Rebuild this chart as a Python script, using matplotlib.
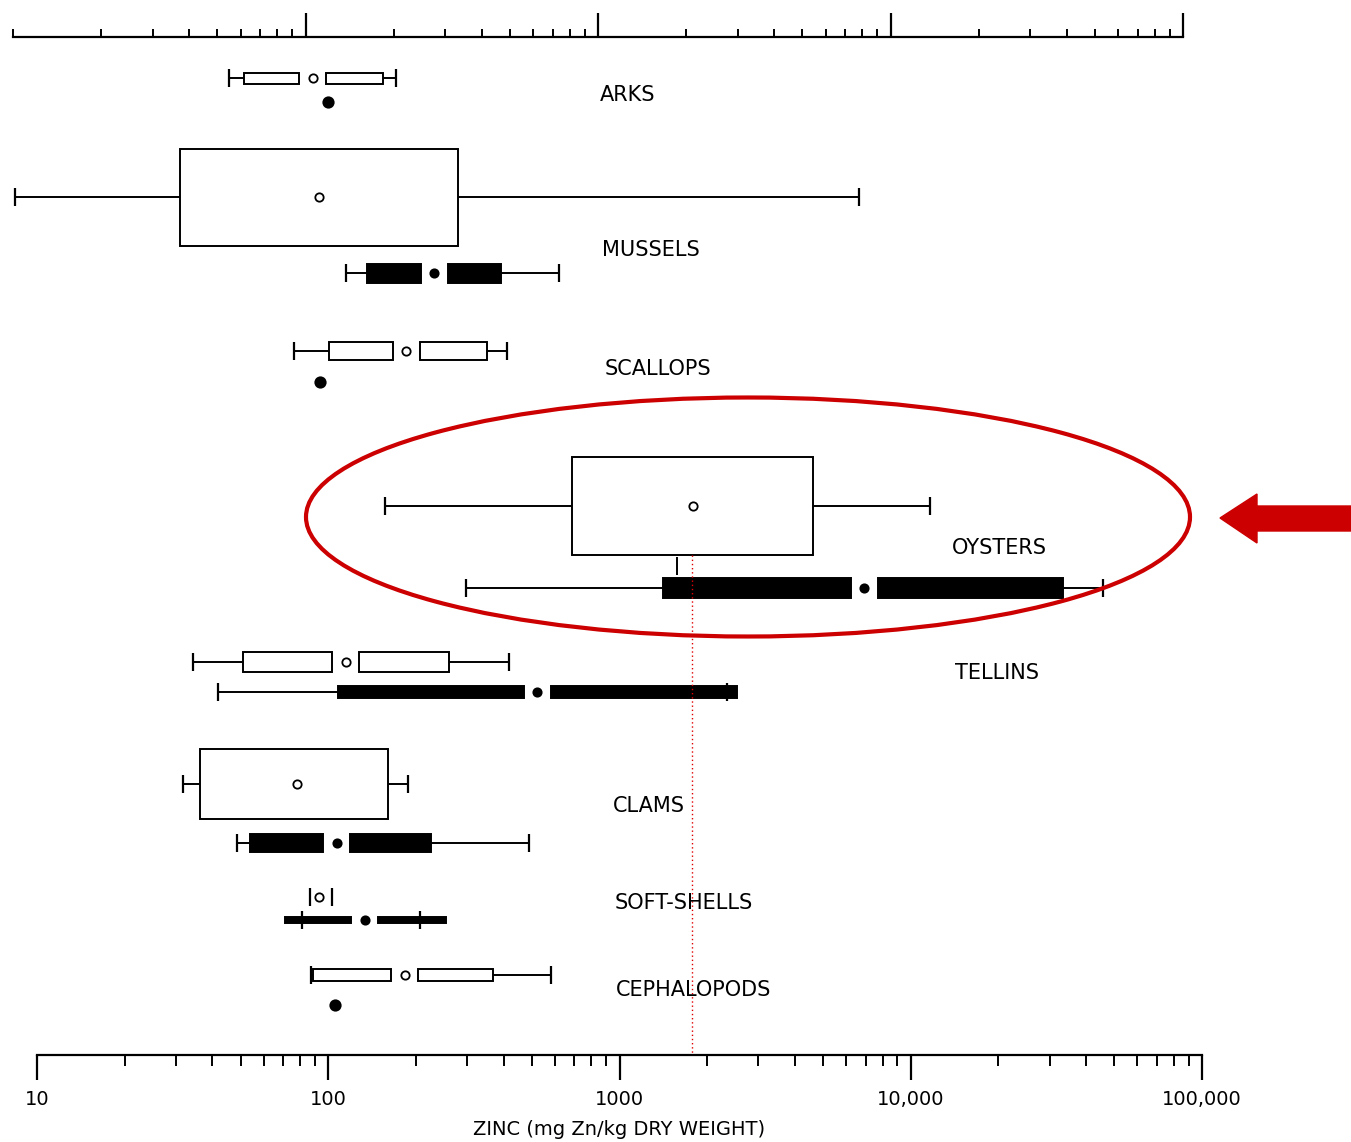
"""
Zinc in bivalves and cephalopods - notched-style box plots on a log scale.
"""

import numpy as np
import matplotlib.pyplot as plt
from matplotlib.patches import Ellipse, Polygon
from matplotlib.ticker import FixedLocator, NullFormatter

groups = ["ARKS", "MUSSELS", "SCALLOPS", "OYSTERS",
          "TELLINS", "CLAMS", "SOFT-SHELLS", "CEPHALOPODS"]

# first data set (open symbols), mg Zn/kg dry weight
open_whisk_lo = [45.6, 8.4, 76.3, 157, 34.3, 31.7, 86.6, 87.3]
open_box_lo = [51.4, 31.0, 100.6, 687, 51.0, 36.3, 86.6, 88.6]
open_median = [88.6, 92.9, 185, 1789, 115, 78.1, 92.9, 183]
open_box_hi = [154, 279, 351, 4617, 260, 160, 103, 368]
open_whisk_hi = [171, 6644, 411, 11650, 417, 188, 103, 582]

# second data set (filled symbols); nan = only the median was plotted
nan = np.nan
filled_whisk_lo = [nan, 115, nan, 297, 41.8, 48.6, 81.2, nan]
filled_box_lo = [nan, 136, nan, 1411, 108, 53.9, 71.0, nan]
filled_median = [99.8, 231, 93.7, 6911, 521, 107, 133.7, 105.5]
filled_box_hi = [nan, 392, nan, 33330, 2532, 225, 254, nan]
filled_whisk_hi = [nan, 620, nan, 45760, 2339, 489, 206.5, nan]

oyster_mark = 1575
ref_line = 1774

decades = [10, 100, 1000, 10000, 100000]
decade_labels = ["10", "100", "1000", "10,000", "100,000"]

# layout, in pixels of the 1351x1142 page
W, H = 1351, 1142
open_y = [78, 197, 351, 506, 662, 784, 897, 975]
open_h = [11, 97, 18, 98, 20, 70, 8, 12]
open_split = [True, False, True, False, True, False, True, True]
filled_y = [102, 273, 382, 588, 692, 843, 920, 1005]
filled_h = [0, 19, 0, 20, 12, 18, 6, 0]
label_xy = [(600, 95), (602, 250), (605, 369), (952, 548),
            (955, 673), (613, 806), (615, 903), (616, 990)]

px_dec = 291.25   # pixels per decade on the bottom scale
x10 = 37          # pixel of the "10" tick
gap = 10 ** (13.5 / px_dec)
cap = 9

fig = plt.figure(figsize=(W / 100, H / 100), dpi=100)
ax = fig.add_axes([0, 0, 1, 1])
ax.set_xscale("log")
ax.set_xlim(10 ** (1 - x10 / px_dec), 10 ** (1 + (W - x10) / px_dec))
ax.set_ylim(H, 0)
ax.axis("off")


def draw_box(y, h, wlo, blo, med, bhi, whi, split, filled):
    fc = "black" if filled else "white"
    if not np.isnan(blo):
        if split:
            parts = [(blo, med / gap), (med * gap, bhi)]
        else:
            parts = [(blo, bhi)]
        ax.hlines(y, wlo, blo, colors="black", lw=1.4, zorder=2)
        ax.hlines(y, bhi, whi, colors="black", lw=1.4, zorder=2)
        for a, b in parts:
            if b > a:
                ax.barh(y, b - a, left=a, height=h, color=fc,
                        edgecolor="black", linewidth=1.4, zorder=3)
        ax.vlines([wlo, whi], y - cap, y + cap, colors="black",
                  lw=1.6, zorder=4)
    size = 6 if h > 0 else 7.5
    ax.plot(med, y, "o", ms=size, mfc=fc, mec="black", mew=1.3, zorder=5)


for i in range(len(groups)):
    draw_box(open_y[i], open_h[i], open_whisk_lo[i], open_box_lo[i],
             open_median[i], open_box_hi[i], open_whisk_hi[i],
             open_split[i], False)
    draw_box(filled_y[i], filled_h[i], filled_whisk_lo[i], filled_box_lo[i],
             filled_median[i], filled_box_hi[i], filled_whisk_hi[i],
             True, True)

ax.vlines(oyster_mark, 557, 575, colors="black", lw=1.4)
ax.vlines(ref_line, 555, 1053, colors="#e00000", lw=1.0,
          linestyles=(0, (1, 2)), zorder=6)

minors = [m * d for d in decades[:-1] for m in range(2, 10)]

# bottom scale
axb = fig.add_axes([x10 / W, 1 - 1055 / H, 1165 / W, 1e-4])
axb.set_xscale("log")
axb.set_xlim(10, 1e5)
for s in ["left", "right", "top"]:
    axb.spines[s].set_visible(False)
axb.spines["bottom"].set_linewidth(1.6)
axb.set_yticks([])
axb.set_xticks(decades, decade_labels)
axb.xaxis.set_minor_locator(FixedLocator(minors))
axb.xaxis.set_minor_formatter(NullFormatter())
axb.tick_params(which="major", direction="out", length=18, width=1.6,
                pad=7, labelsize=14)
axb.tick_params(which="minor", direction="out", length=8, width=1.4)
axb.set_xlabel("ZINC (mg Zn/kg DRY WEIGHT)", fontsize=14, labelpad=8)

# top scale
axt = fig.add_axes([13 / W, 1 - 37 / H, 1170 / W, 1e-4])
axt.set_xscale("log")
axt.set_xlim(10, 1e5)
for s in ["left", "right", "top"]:
    axt.spines[s].set_visible(False)
axt.spines["bottom"].set_linewidth(1.6)
axt.set_yticks([])
axt.set_xticks(decades[1:])
axt.xaxis.set_minor_locator(FixedLocator(decades[:1] + minors))
axt.tick_params(which="major", direction="in", length=17, width=1.6,
                labelbottom=False)
axt.tick_params(which="minor", direction="in", length=6, width=1.4,
                labelbottom=False)

# overlay for labels and highlight
ov = fig.add_axes([0, 0, 1, 1])
ov.set_xlim(0, W)
ov.set_ylim(H, 0)
ov.axis("off")
ov.patch.set_alpha(0)

for name, (lx, ly) in zip(groups, label_xy):
    ov.text(lx, ly, name, fontsize=15, ha="left", va="center")

ov.add_patch(Ellipse((748, 517), 884, 239, fill=False,
                     edgecolor="#cc0000", lw=3))
ov.add_patch(Polygon([(1220, 518), (1257, 494), (1257, 506), (1351, 506),
                      (1351, 531), (1257, 531), (1257, 543)],
                     closed=True, color="#cc0000"))

fig.savefig("out.png", dpi=100)
